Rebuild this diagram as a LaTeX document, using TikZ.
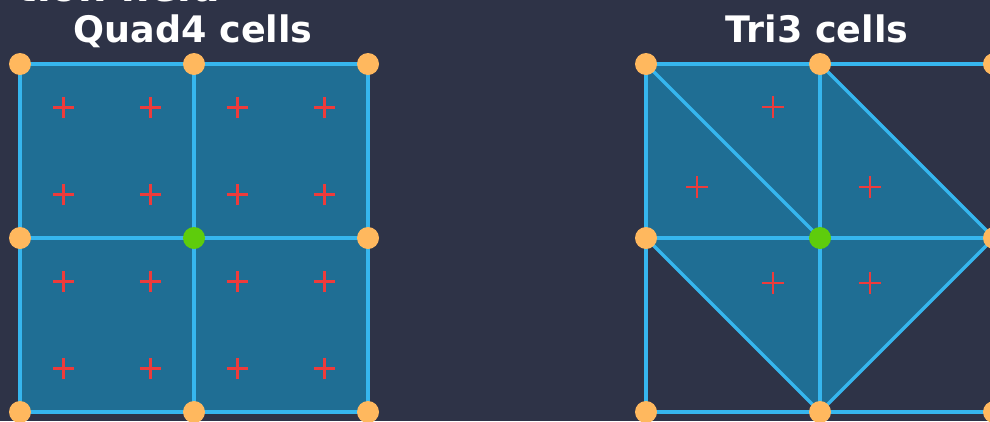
\documentclass[tikz,border=0pt]{standalone}
\usepackage{fontspec}
\setmainfont{DejaVu Sans}
\usetikzlibrary{shapes.misc}
\definecolor{bg}{HTML}{2E3347}
\definecolor{cellfill}{HTML}{1F6E94}
\definecolor{edgeblue}{HTML}{36B6EE}
\definecolor{nodeorange}{HTML}{FFB85E}
\definecolor{nodegreen}{HTML}{5ECC0C}
\definecolor{gpred}{HTML}{EE3B3B}
\tikzset{
  edge/.style={draw=edgeblue, line width=3.3pt},
  vtx/.style={circle, fill=nodeorange, minimum size=22pt, inner sep=0pt},
  ctr/.style={circle, fill=nodegreen, minimum size=22pt, inner sep=0pt},
  gpt/.style={cross out, draw=gpred, line width=2.8pt, minimum size=12.5pt, inner sep=0pt, rotate=45},
  title/.style={text=white, font=\fontsize{36.5}{40}\selectfont\bfseries, inner sep=0pt, anchor=base},
}
\begin{document}
\begin{tikzpicture}[x=1pt,y=-1pt]
\fill[bg] (0,0) rectangle (990,421);
\useasboundingbox (0,0) rectangle (990,421);

% partial heading at top
\node[title, anchor=base east, font=\fontsize{40}{44}\selectfont\bfseries] (head) at (220,1.5) {tion field};

% titles
\node[title] (tq) at (193,42) {Quad4 cells};
\node[title] (tt) at (817,42) {Tri3 cells};

% Quad coordinates
\foreach \i/\x in {0/20,1/194,2/368}
  \foreach \j/\y in {0/64,1/238,2/412}
    \coordinate (q\i\j) at (\x,\y);
% Tri coordinates
\foreach \i/\x in {0/646,1/820,2/994}
  \foreach \j/\y in {0/64,1/238,2/412}
    \coordinate (t\i\j) at (\x,\y);

% fills
\fill[cellfill] (q00) rectangle (q22);
\fill[cellfill] (t00) -- (t10) -- (t21) -- (t12) -- (t01) -- cycle;

% quad edges
\foreach \k in {0,1,2} {
  \draw[edge] (q0\k) -- (q2\k);
  \draw[edge] (q\k0) -- (q\k2);
}
% tri edges
\foreach \k in {0,1,2} {
  \draw[edge] (t0\k) -- (t2\k);
  \draw[edge] (t\k0) -- (t\k2);
}
\draw[edge] (t00) -- (t11);
\draw[edge] (t10) -- (t21);
\draw[edge] (t01) -- (t12);
\draw[edge] (t21) -- (t12);

% gauss points quad
\foreach \x [count=\a] in {63.5,150.5,237.5,324.5}
  \foreach \y [count=\b] in {107.5,194.5,281.5,368.5}
    \node[gpt] (gq\a\b) at (\x,\y) {};
% gauss points tri
\node[gpt] (gt1) at (773,107) {};
\node[gpt] (gt2) at (697,187) {};
\node[gpt] (gt3) at (870,187) {};
\node[gpt] (gt4) at (773,283) {};
\node[gpt] (gt5) at (870,283) {};

% vertices
\foreach \i in {0,1,2}
  \foreach \j in {0,1,2} {
    \ifnum\i=1 \ifnum\j=1
      \node[ctr] (nq\i\j) at (q\i\j) {};
      \node[ctr] (nt\i\j) at (t\i\j) {};
    \else
      \node[vtx] (nq\i\j) at (q\i\j) {};
      \node[vtx] (nt\i\j) at (t\i\j) {};
    \fi
    \else
      \node[vtx] (nq\i\j) at (q\i\j) {};
      \node[vtx] (nt\i\j) at (t\i\j) {};
    \fi
  }
\end{tikzpicture}
\end{document}
